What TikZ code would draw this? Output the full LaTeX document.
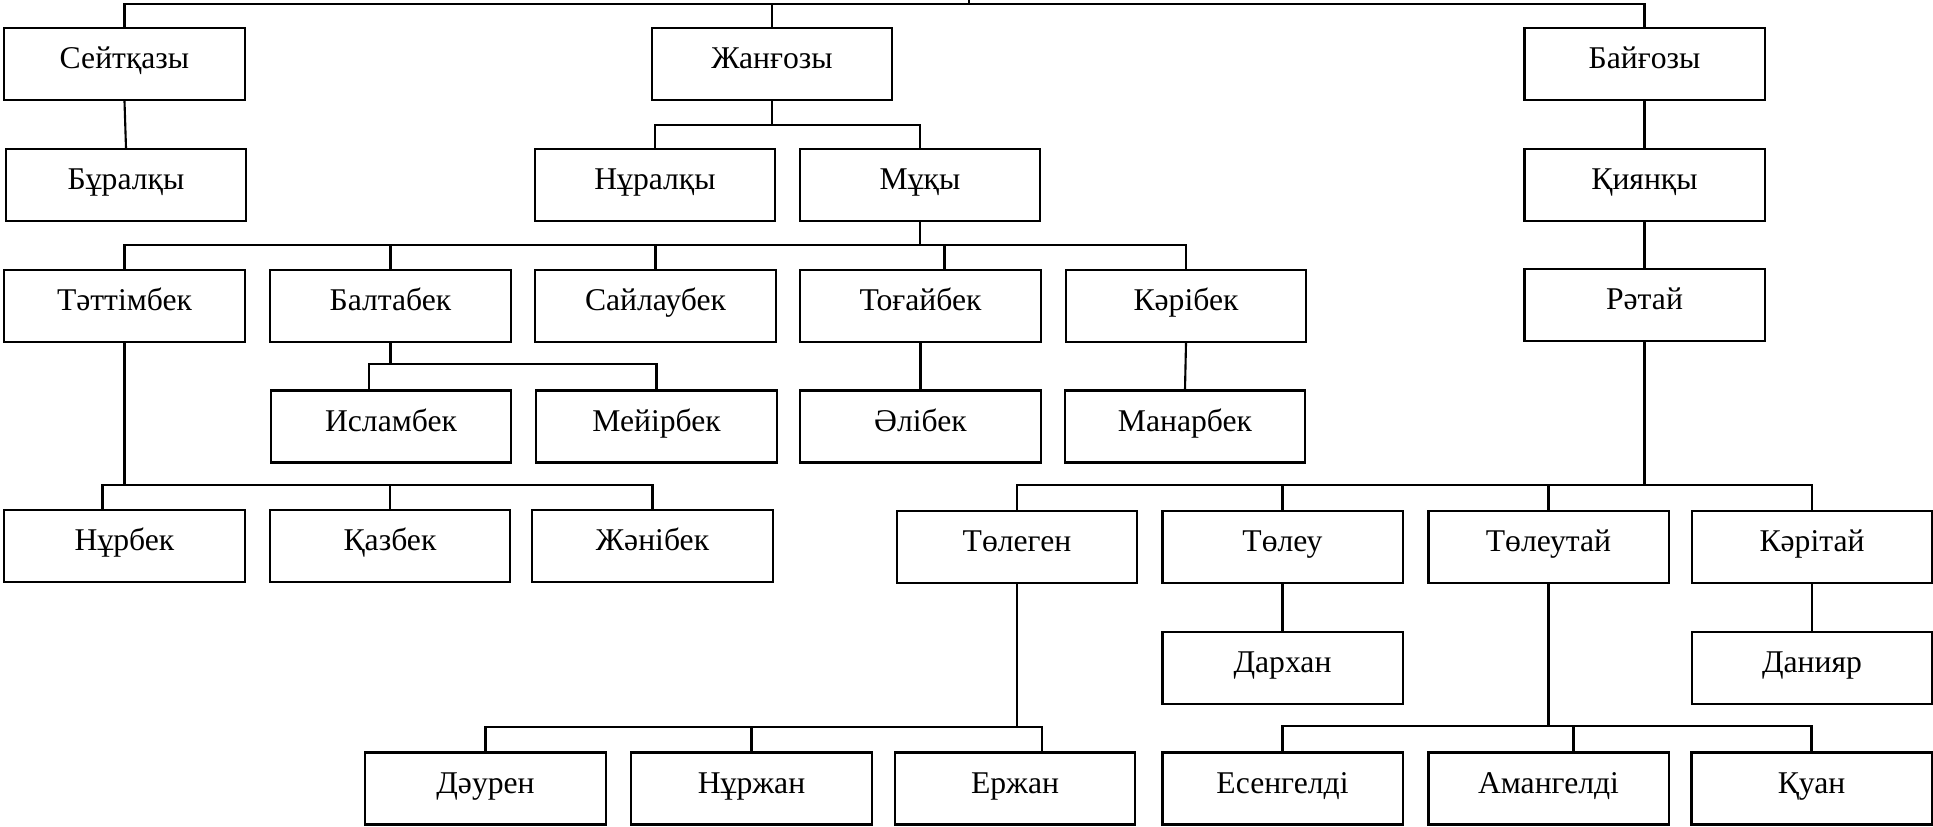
\documentclass[tikz,border=0pt]{standalone}
\usepackage{fontspec}
\setmainfont{Liberation Serif}
\usepackage{tikz}
\usetikzlibrary{calc}

\begin{document}
\begin{tikzpicture}[x=0.01cm,y=-0.01cm,line width=0.6pt,
    box/.style={draw,minimum width=2.4cm,minimum height=0.72cm,inner sep=0pt,
      text height=1.6ex,text depth=1ex,font=\fontsize{9}{11}\selectfont}]
  \useasboundingbox (0,0) rectangle (1933,826);

  \node[box] (Sejt) at (124.5,64) {Сейтқазы};
  \node[box] (Jang) at (772,64) {Жанғозы};
  \node[box] (Baig) at (1644.5,64) {Байғозы};

  \node[box] (Bural) at (126,185) {Бұралқы};
  \node[box] (Nural) at (655,185) {Нұралқы};
  \node[box] (Muky) at (920,185) {Мұқы};
  \node[box] (Kiyan) at (1644.5,185) {Қиянқы};

  \node[box] (Tatt) at (124.5,306) {Тәттімбек};
  \node[box] (Balt) at (390.5,306) {Балтабек};
  \node[box] (Sail) at (655.5,306) {Сайлаубек};
  \node[box] (Togai) at (920.5,306) {Тоғайбек};
  \node[box] (Karib) at (1186,306) {Кәрібек};
  \node[box] (Ratai) at (1644.5,305) {Рәтай};

  \node[box] (Islam) at (391,426.5) {Исламбек};
  \node[box] (Meyir) at (656.5,426.5) {Мейірбек};
  \node[box] (Alib) at (920.5,426.5) {Әлібек};
  \node[box] (Manar) at (1185,426.5) {Манарбек};

  \node[box] (Nurb) at (124.5,546) {Нұрбек};
  \node[box] (Kazb) at (390,546) {Қазбек};
  \node[box] (Zhanib) at (652.5,546) {Жәнібек};
  \node[box] (Tolegen) at (1017,547) {Төлеген};
  \node[box] (Toleu) at (1282.5,547) {Төлеу};
  \node[box] (Toleut) at (1548.5,547) {Төлеутай};
  \node[box] (Karit) at (1812,547) {Кәрітай};

  \node[box] (Darkhan) at (1282.5,668) {Дархан};
  \node[box] (Daniyar) at (1812,668) {Данияр};

  \node[box] (Dauren) at (485.5,788.5) {Дәурен};
  \node[box] (Nurzhan) at (751.5,788.5) {Нұржан};
  \node[box] (Erzhan) at (1015,788.5) {Ержан};
  \node[box] (Esen) at (1282.5,788.5) {Есенгелді};
  \node[box] (Aman) at (1548.5,788.5) {Амангелді};
  \node[box] (Kuan) at (1811.5,788.5) {Қуан};

  % top
  \coordinate (R) at (969,0);
  \coordinate (Rb) at (969,4);
  \draw (R) -- (Rb);
  \draw (Sejt.north) |- (Rb) -| (Baig.north);
  \draw (Jang.north) -- (Jang.north |- Rb);

  \draw (Sejt.south) -- (Bural.north);
  \draw (Baig.south) -- (Kiyan.north);
  \draw (Kiyan.south) -- (Ratai.north);

  \coordinate (Jb) at ([yshift=0.23cm]Nural.north);
  \draw (Jang.south) -- (Jang.south |- Jb);
  \draw (Nural.north) |- (Jb) -| (Muky.north);

  \coordinate (Mb) at ([yshift=0.24cm]Tatt.north);
  \coordinate (Tt) at ([xshift=0.24cm]Togai.north);
  \draw (Muky.south) -- (Muky.south |- Mb);
  \draw (Tatt.north) |- (Mb) -| (Karib.north);
  \draw (Balt.north) -- (Balt.north |- Mb);
  \draw (Sail.north) -- (Sail.north |- Mb);
  \draw (Tt) -- (Tt |- Mb);

  \coordinate (Bb) at ([yshift=0.25cm]Islam.north);
  \coordinate (It) at ([xshift=-0.22cm]Islam.north);
  \draw (Balt.south) -- (Balt.south |- Bb);
  \draw (It) |- (Bb) -| (Meyir.north);

  \draw (Togai.south) -- (Alib.north);
  \draw (Karib.south) -- (Manar.north);

  \coordinate (Tb) at ([yshift=0.24cm]Kazb.north);
  \coordinate (Nt) at ([xshift=-0.22cm]Nurb.north);
  \draw (Tatt.south) -- (Tatt.south |- Tb);
  \draw (Nt) |- (Tb) -| (Zhanib.north);
  \draw (Kazb.north) -- (Tb);

  \coordinate (Pb) at ([yshift=0.25cm]Toleu.north);
  \draw (Ratai.south) -- (Ratai.south |- Pb);
  \draw (Tolegen.north) |- (Pb) -| (Karit.north);
  \draw (Toleu.north) -- (Pb);
  \draw (Toleut.north) -- (Toleut.north |- Pb);

  \draw (Toleu.south) -- (Darkhan.north);
  \draw (Karit.south) -- (Daniyar.north);

  \coordinate (Gb) at ([yshift=0.24cm]Nurzhan.north);
  \coordinate (Et) at ([xshift=0.27cm]Erzhan.north);
  \draw (Tolegen.south) -- (Tolegen.south |- Gb);
  \draw (Dauren.north) |- (Gb) -| (Et);
  \draw (Nurzhan.north) -- (Gb);

  \coordinate (Ub) at ([yshift=0.25cm]Aman.north);
  \coordinate (At) at ([xshift=0.25cm]Aman.north);
  \draw (Toleut.south) -- (Toleut.south |- Ub);
  \draw (Esen.north) |- (Ub) -| (Kuan.north);
  \draw (At) -- (At |- Ub);
\end{tikzpicture}
\end{document}
